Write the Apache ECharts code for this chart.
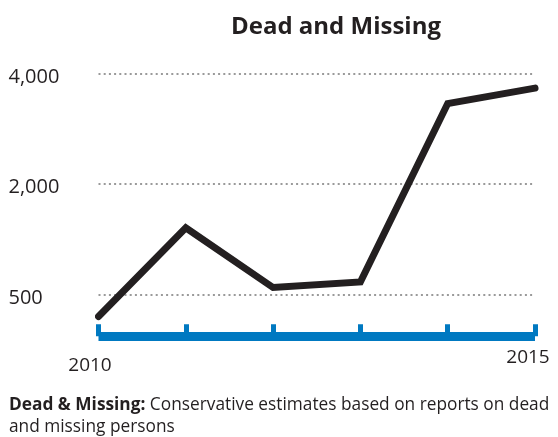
<!DOCTYPE html>
<html><head><meta charset="utf-8">
<script src="https://cdn.jsdelivr.net/npm/echarts@6/dist/echarts.min.js"></script>
<style>html,body{margin:0;padding:0;background:#fff}#c{width:558px;height:437px}</style>
</head><body><div id="c"></div>
<script>
const years = ['2010', '2011', '2012', '2013', '2014', '2015'];
const deadMissing = [60, 1500, 530, 620, 3520, 3770];
const yTickLabels = ['500', '2,000', '4,000'];
const titleText = 'Dead and Missing';
const noteLabel = 'Dead & Missing:';
const noteText = ' Conservative estimates based on reports on dead\nand missing persons';

const FONT = '"Open Sans", "Noto Sans", sans-serif';
const INK = '#231f20';
const BLUE = '#0079c1';
const chart = echarts.init(document.getElementById('c'), null, {renderer: 'canvas'});
chart.setOption({
  animation: false,
  backgroundColor: '#fff',
  title: [
    {text: titleText, left: 331, textAlign: 'center', top: 10,
     textStyle: {fontFamily: FONT, fontWeight: 'bold', fontSize: 24, color: INK}},
    {text: '{b|' + noteLabel + '}{r|' + noteText + '}', left: 4, top: 389,
     textStyle: {fontWeight: 'normal', rich: {
       b: {fontFamily: FONT, fontWeight: 'bold', fontSize: 17.3, color: INK, lineHeight: 22},
       r: {fontFamily: FONT, fontWeight: 'normal', fontSize: 17.3, color: INK, lineHeight: 22}
     }}}
  ],
  grid: {left: 98.5, right: 23, top: 74, bottom: 142.7, containLabel: false},
  xAxis: [{
    type: 'category', data: years, boundaryGap: false, position: 'bottom', offset: 41.9,
    axisLine: {show: true, lineStyle: {color: BLUE, width: 9, cap: 'butt'}},
    axisTick: {show: true, inside: true, length: 12, interval: 0, lineStyle: {color: BLUE, width: 5, cap: 'butt'}},
    axisLabel: {
      interval: 0, margin: 12,
      formatter: function (v, i) { return i === 0 ? '{a|' + v + '}' : (i === years.length - 1 ? '{b|' + v + '}' : ''); },
      rich: {
        a: {fontFamily: FONT, fontSize: 19, color: INK, padding: [8, 17, 0, 0]},
        b: {fontFamily: FONT, fontSize: 19, color: INK, padding: [0, 14, 0, 0]}
      }
    },
    splitLine: {show: false}
  }],
  yAxis: [
    {type: 'value', min: 420, max: 4000, show: false, splitLine: {show: false}},
    {type: 'category', data: yTickLabels, boundaryGap: false, position: 'left',
     axisLine: {show: false}, axisTick: {show: false},
     axisLabel: {interval: 0, align: 'left', margin: 90,
       formatter: function (v) { return '{t|' + v + '}'; },
       rich: {t: {fontFamily: FONT, fontSize: 20, color: INK, padding: [7, 0, 0, 0]}}},
     splitLine: {show: true, interval: 0, lineStyle: {type: [2, 3.2], color: '#9a9a9a', width: 2}}}
  ],
  series: [{
    type: 'line', data: deadMissing, xAxisIndex: 0, yAxisIndex: 0,
    symbol: 'none', clip: false, z: 5,
    lineStyle: {color: INK, width: 7, cap: 'round', join: 'miter'}
  }]
});
</script></body></html>
